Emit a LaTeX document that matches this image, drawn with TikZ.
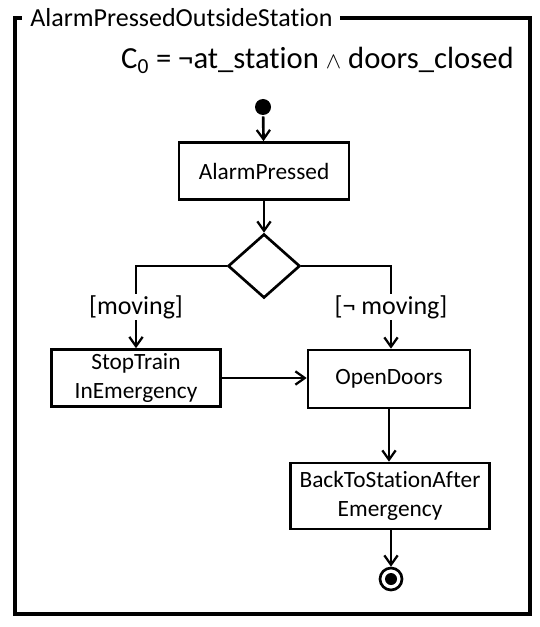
\documentclass[tikz,border=0pt]{standalone}
\usepackage{fontspec}
\setmainfont{Carlito}[Ligatures={NoCommon,NoRare,NoContextual}]
\usetikzlibrary{arrows.meta,shapes.geometric}
\begin{document}
\begin{tikzpicture}[x=0.75pt,y=-0.75pt,
  line width=2pt,
  act/.style={draw,line width=2pt,rectangle,align=center,inner sep=0pt,font=\fontsize{17.5}{22}\selectfont},
  flow/.style={-{Straight Barb[length=7pt,width=10pt,line width=1.7pt]}},
  lbl/.style={font=\fontsize{19.5}{22}\selectfont,fill=white,inner sep=1pt}]
\useasboundingbox (0,0) rectangle (539,627);
% frame
\node[anchor=west,font=\fontsize{19.5}{22}\selectfont,inner sep=0pt] (title) at (29,18) {AlarmPressedOutsideStation};
\draw[line width=2.4pt] (title.east) ++(6,0) -- (530,18) -- (530,614) -- (15,614) -- (15,18) -- (22,18);
\node[font=\fontsize{23}{26}\selectfont,anchor=east,inner sep=0pt] (cond) at (515,60) {C\textsubscript{0} = ¬at\_station {\fontsize{17}{20}\selectfont$\wedge$} doors\_closed};
% nodes
\node[circle,fill=black,inner sep=0pt,minimum size=16*0.75pt] (init) at (263,107) {};
\node[act,minimum width=170*0.75pt,minimum height=57*0.75pt] (alarm) at (264,171) {AlarmPressed};
\node[diamond,draw,line width=2pt,minimum width=72*0.75pt,minimum height=64*0.75pt,inner sep=0pt] (dec) at (264,266) {};
\node[act,minimum width=169*0.75pt,minimum height=57*0.75pt] (stop) at (136,378) {StopTrain\\InEmergency};
\node[act,minimum width=162*0.75pt,minimum height=58*0.75pt] (open) at (389,379) {OpenDoors};
\node[act,minimum width=199*0.75pt,minimum height=66*0.75pt] (back) at (390,496) {BackToStationAfter\\Emergency};
\node[circle,draw,line width=2pt,minimum size=22*0.75pt,inner sep=0pt] (final) at (391,579) {};
\node[circle,fill=black,minimum size=12*0.75pt,inner sep=0pt] (finalin) at (final.center) {};
% connectors
\draw[flow] (init) -- (alarm);
\draw[flow] (alarm) -- (dec);
\coordinate (lc) at (136,266);
\coordinate (rc) at (391,266);
\draw[flow] (dec.west) -- (lc) -- (stop.north);
\draw[flow] (dec.east) -- (rc) -- (rc |- open.north);
\node[lbl] (lm) at (136,307) {[moving]};
\node[lbl] (lnm) at (391,307) {[¬ moving]};
\draw[flow] (stop.east) -- (open.west |- stop.east);
\draw[flow] (open.south) -- (open.south |- back.north);
\draw[flow] (back.south -| final) -- (final.north);
\end{tikzpicture}
\end{document}
